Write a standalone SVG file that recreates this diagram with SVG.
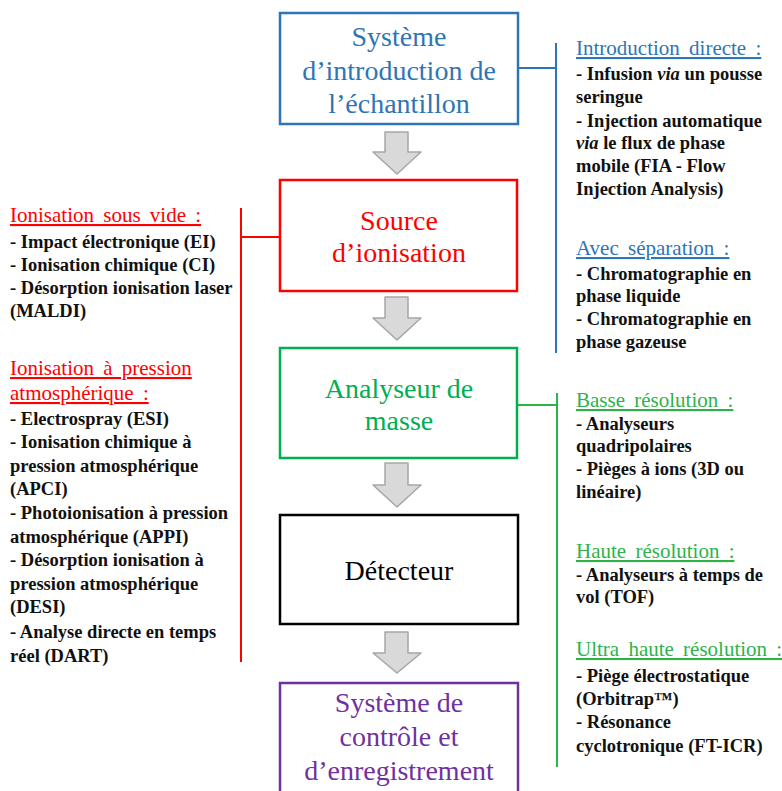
<svg xmlns="http://www.w3.org/2000/svg" width="782" height="791" viewBox="0 0 782 791">
<style>
text{font-family:"Liberation Serif","Times New Roman",serif}
.box{fill:#fff;stroke-width:2.5}
.bt{font-size:28px;text-anchor:middle}
.h{font-size:21px;text-decoration:underline;word-spacing:4px}
.b{font-size:18.5px;font-weight:bold;fill:#111}
.arr{fill:#d9d9d9;stroke:#a6a6a6;stroke-width:1.5;stroke-linejoin:round}
.ln{fill:none;stroke-width:2}
</style>
<rect width="782" height="791" fill="#fff"/>
<g id="connectors">
<polyline class="ln" stroke="#2e75b6" points="518,68 556,68"/>
<line class="ln" stroke="#2e75b6" x1="556" y1="43" x2="556" y2="353"/>
<polyline class="ln" stroke="#ff0000" points="280,237 241,237"/>
<line class="ln" stroke="#ff0000" x1="241" y1="208" x2="241" y2="662"/>
<polyline class="ln" stroke="#2db34a" points="518,405 557,405"/>
<line class="ln" stroke="#2db34a" x1="557" y1="393" x2="557" y2="767"/>
<polygon class="arr" points="385,132 408,132 408,152 421,152 397,174 373,152 385,152"/>
<polygon class="arr" points="385,297 408,297 408,318 421,318 397,340 373,318 385,318"/>
<polygon class="arr" points="385,463 408,463 408,485 421,485 397,507 373,485 385,485"/>
<polygon class="arr" points="385,632 408,632 408,653 421,653 397,673 373,653 385,653"/>
</g>
<g id="n1">
<rect class="box" x="280" y="13" width="238" height="111" stroke="#2e75b6"/>
<text class="bt" fill="#2e75b6" x="399" y="46">Système</text>
<text class="bt" fill="#2e75b6" x="399" y="80">d’introduction de</text>
<text class="bt" fill="#2e75b6" x="399" y="113">l’échantillon</text>
</g>
<g id="n2">
<rect class="box" x="280" y="180" width="237" height="111" stroke="#ff0000"/>
<text class="bt" fill="#ff0000" x="399" y="230">Source</text>
<text class="bt" fill="#ff0000" x="399" y="262">d’ionisation</text>
</g>
<g id="n3">
<rect class="box" x="280" y="348" width="237" height="110" stroke="#00b050"/>
<text class="bt" fill="#00b050" x="399" y="398">Analyseur de</text>
<text class="bt" fill="#00b050" x="399" y="430">masse</text>
</g>
<g id="n4">
<rect class="box" x="280" y="515" width="238" height="109" stroke="#000"/>
<text class="bt" fill="#000" x="399" y="580">Détecteur</text>
</g>
<g id="n5">
<rect class="box" x="280" y="683" width="238" height="120" stroke="#7030a0"/>
<text class="bt" fill="#7030a0" x="399" y="712">Système de</text>
<text class="bt" fill="#7030a0" x="399" y="746">contrôle et</text>
<text class="bt" fill="#7030a0" x="399" y="780">d’enregistrement</text>
</g>
<g id="introduction">
<text class="h" fill="#2e75b6" x="576" y="55">Introduction directe :</text>
<text class="b" x="576" y="80">- Infusion <tspan font-style="italic">via</tspan> un pousse</text>
<text class="b" x="576" y="103">seringue</text>
<text class="b" x="576" y="127">- Injection automatique</text>
<text class="b" x="576" y="149"><tspan font-style="italic">via</tspan> le flux de phase</text>
<text class="b" x="576" y="172">mobile (FIA - Flow</text>
<text class="b" x="576" y="195">Injection Analysis)</text>
<text class="h" fill="#2e75b6" x="576" y="255">Avec séparation :</text>
<text class="b" x="576" y="280">- Chromatographie en</text>
<text class="b" x="576" y="302">phase liquide</text>
<text class="b" x="576" y="325">- Chromatographie en</text>
<text class="b" x="576" y="348">phase gazeuse</text>
</g>
<g id="ionisation">
<text class="h" fill="#ff0000" x="10" y="222">Ionisation sous vide :</text>
<text class="b" x="10" y="248">- Impact électronique (EI)</text>
<text class="b" x="10" y="271">- Ionisation chimique (CI)</text>
<text class="b" x="10" y="294">- Désorption ionisation laser</text>
<text class="b" x="10" y="317">(MALDI)</text>
<text class="h" fill="#ff0000" x="10" y="375">Ionisation à pression</text>
<text class="h" fill="#ff0000" x="10" y="400">atmosphérique :</text>
<text class="b" x="10" y="425">- Electrospray (ESI)</text>
<text class="b" x="10" y="448">- Ionisation chimique à</text>
<text class="b" x="10" y="472">pression atmosphérique</text>
<text class="b" x="10" y="495">(APCI)</text>
<text class="b" x="10" y="519">- Photoionisation à pression</text>
<text class="b" x="10" y="543">atmosphérique (APPI)</text>
<text class="b" x="10" y="566">- Désorption ionisation à</text>
<text class="b" x="10" y="590">pression atmosphérique</text>
<text class="b" x="10" y="613">(DESI)</text>
<text class="b" x="10" y="638">- Analyse directe en temps</text>
<text class="b" x="10" y="662">réel (DART)</text>
</g>
<g id="analyseurs">
<text class="h" fill="#2db34a" x="576" y="407">Basse résolution :</text>
<text class="b" x="576" y="430">- Analyseurs</text>
<text class="b" x="576" y="452">quadripolaires</text>
<text class="b" x="576" y="475">- Pièges à ions (3D ou</text>
<text class="b" x="576" y="498">linéaire)</text>
<text class="h" fill="#2db34a" x="576" y="558">Haute résolution :</text>
<text class="b" x="576" y="581">- Analyseurs à temps de</text>
<text class="b" x="576" y="603">vol (TOF)</text>
<text class="h" fill="#2db34a" x="576" y="656">Ultra haute résolution :</text>
<text class="b" x="576" y="682">- Piège électrostatique</text>
<text class="b" x="576" y="705">(Orbitrap™)</text>
<text class="b" x="576" y="728">- Résonance</text>
<text class="b" x="576" y="752">cyclotronique (FT-ICR)</text>
</g>
</svg>
